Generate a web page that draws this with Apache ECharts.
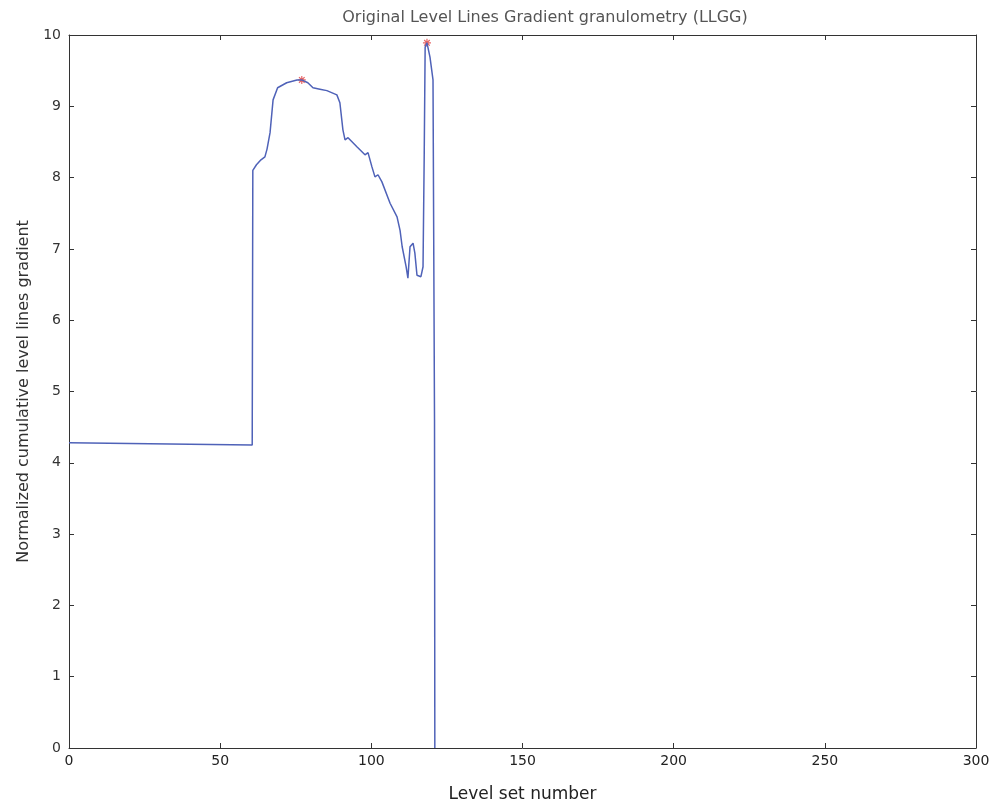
<!DOCTYPE html>
<html>
<head>
<meta charset="utf-8">
<script src="https://cdn.jsdelivr.net/npm/echarts@6/dist/echarts.min.js"></script>
<style>html,body{margin:0;padding:0;background:#fff;}#chart{width:995px;height:808px;}</style>
</head>
<body>
<div id="chart"></div>
<script>
// Level set number (x) and normalized cumulative level lines gradient (y)
const levelX = [0, 20, 40, 60.6, 60.8, 62, 63.5, 64.8, 65.5, 66.5, 67.5, 69, 72, 75.4, 77, 79, 80.7, 83, 85.3, 88.6, 89.6, 90.6, 91.3, 92.3, 95.3, 97.9, 98.9, 100.2, 101.2, 102.2, 103.5, 106.2, 108.5, 109.5, 110.2, 111.5, 112.1, 112.8, 113.8, 114.4, 115.1, 116.4, 117.1, 117.5, 117.8, 118.4, 119.4, 120.4, 120.9, 121];
const gradientY = [4.28, 4.27, 4.26, 4.25, 8.1, 8.18, 8.25, 8.29, 8.4, 8.63, 9.09, 9.26, 9.33, 9.37, 9.37, 9.33, 9.26, 9.24, 9.22, 9.16, 9.05, 8.67, 8.53, 8.56, 8.43, 8.32, 8.35, 8.15, 8.01, 8.04, 7.94, 7.64, 7.45, 7.26, 7.03, 6.75, 6.59, 7.03, 7.08, 6.94, 6.63, 6.61, 6.75, 8.35, 9.83, 9.89, 9.69, 9.37, 4.6, 0];
// maxima markers
const peakX = [77, 118.4];
const peakY = [9.37, 9.89];
const xTicks = [0, 50, 100, 150, 200, 250, 300];
const yTicks = [0, 1, 2, 3, 4, 5, 6, 7, 8, 9, 10];

const lineData = levelX.map((x, i) => [x, gradientY[i]]);
const peakData = peakX.map((x, i) => [x, peakY[i]]);
const font = '"DejaVu Sans", Verdana, sans-serif';
const axisCol = '#333';

const chart = echarts.init(document.getElementById('chart'), null, {renderer: 'canvas'});
const baseX = {
  type: 'value', min: xTicks[0], max: xTicks[xTicks.length - 1], interval: 50,
  axisLine: {show: true, onZero: false, lineStyle: {color: axisCol, width: 1}},
  axisTick: {show: true, inside: true, length: 5, lineStyle: {color: axisCol}},
  splitLine: {show: false}
};
const baseY = {
  type: 'value', min: yTicks[0], max: yTicks[yTicks.length - 1], interval: 1,
  axisLine: {show: true, onZero: false, lineStyle: {color: axisCol, width: 1}},
  axisTick: {show: true, inside: true, length: 5, lineStyle: {color: axisCol}},
  splitLine: {show: false}
};
chart.setOption({
  animation: false,
  backgroundColor: '#fff',
  title: {
    text: 'Original Level Lines Gradient granulometry (LLGG)',
    left: 540, textAlign: 'center', top: 5,
    textStyle: {fontFamily: font, fontSize: 16, fontWeight: 'normal', color: '#555'}
  },
  grid: {left: 69, right: 19, top: 35, bottom: 60, containLabel: false},
  xAxis: [
    Object.assign({}, baseX, {
      position: 'bottom',
      name: 'Level set number', nameLocation: 'middle', nameGap: 38,
      nameTextStyle: {fontFamily: font, fontSize: 17, color: '#222'},
      axisLabel: {fontFamily: font, fontSize: 14, color: '#222', margin: 6}
    }),
    Object.assign({}, baseX, {position: 'top', axisLabel: {show: false}})
  ],
  yAxis: [
    Object.assign({}, baseY, {
      position: 'left',
      name: 'Normalized cumulative level lines gradient', nameLocation: 'middle', nameGap: 30,
      nameTextStyle: {fontFamily: font, fontSize: 16, color: '#333'},
      axisLabel: {fontFamily: font, fontSize: 14, color: '#333', margin: 8}
    }),
    Object.assign({}, baseY, {position: 'right', axisLabel: {show: false}})
  ],
  series: [
    {
      type: 'line', data: lineData, xAxisIndex: 0, yAxisIndex: 0,
      showSymbol: false, symbol: 'none',
      lineStyle: {color: '#4f62b8', width: 1.5}
    },
    {
      type: 'scatter', data: peakData, xAxisIndex: 0, yAxisIndex: 0,
      symbol: 'path://M0,5L10,5M5,0L5,10M1.5,1.5L8.5,8.5M8.5,1.5L1.5,8.5',
      symbolSize: 8,
      itemStyle: {color: 'transparent', borderColor: '#e04040', borderWidth: 1.2}
    }
  ]
});
</script>
</body>
</html>
